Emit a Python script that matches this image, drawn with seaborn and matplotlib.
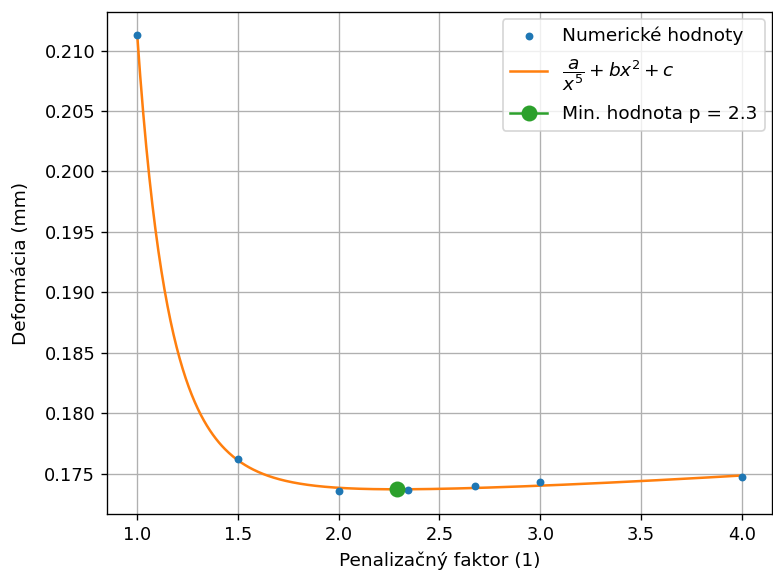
import numpy as np
import matplotlib
matplotlib.use("Agg")
import matplotlib.pyplot as plt
import seaborn as sns

# Numerical values
penalty = [1.0, 1.5, 2.0, 2.344, 2.677, 3.0, 4.0]
deformation = [0.2113, 0.17619, 0.17356, 0.17362, 0.17398, 0.17431, 0.17472]
labels = ["Numerické hodnoty", r"$\dfrac{a}{x^5} + bx^2 + c$", "Min. hodnota p = 2.3"]
xticks = [1.0, 1.5, 2.0, 2.5, 3.0, 3.5, 4.0]

x = np.array(penalty)
y = np.array(deformation)

# least-squares fit of a/x^n + b x^2 + c (exponent chosen by best residual)
best = None
for n in np.arange(3.0, 12.0, 0.05):
    A = np.column_stack([1 / x**n, x**2, np.ones_like(x)])
    p, *_ = np.linalg.lstsq(A, y, rcond=None)
    ss = np.sum((A @ p - y) ** 2)
    if best is None or ss < best[0]:
        best = (ss, n, p)
_, n, (a, b, c) = best
xf = np.linspace(x.min(), x.max(), 600)
yf = a / xf**n + b * xf**2 + c
x_min = (n * a / (2 * b)) ** (1 / (n + 2))
y_min = a / x_min**n + b * x_min**2 + c

plt.rcParams["font.size"] = 11
plt.rcParams["xtick.labelsize"] = 10.6
plt.rcParams["ytick.labelsize"] = 10.6

dpi = 120.8
fig, ax = plt.subplots(figsize=(773 / dpi, 571 / dpi), dpi=dpi)
fig.subplots_adjust(left=0.1384, right=0.9987, top=0.979, bottom=0.0998)

sns.scatterplot(x=x, y=y, ax=ax, color="C0", s=22, linewidth=0,
                label=labels[0], zorder=3)
sns.lineplot(x=xf, y=yf, ax=ax, color="C1", linewidth=1.5,
             label=labels[1], zorder=2)
ax.plot([x_min], [y_min], marker="o", color="C2", markersize=8.5,
        linestyle="-", label=labels[2], zorder=4)

ax.set_xlabel("Penalizačný faktor (1)", labelpad=4.5)
ax.set_ylabel("Deformácia (mm)", labelpad=8.5)
ax.grid(True)
ax.set_xticks(xticks)
ax.legend(loc="upper right", labelspacing=0.66, borderaxespad=0.4)
fig.savefig("out.png", dpi=dpi)
